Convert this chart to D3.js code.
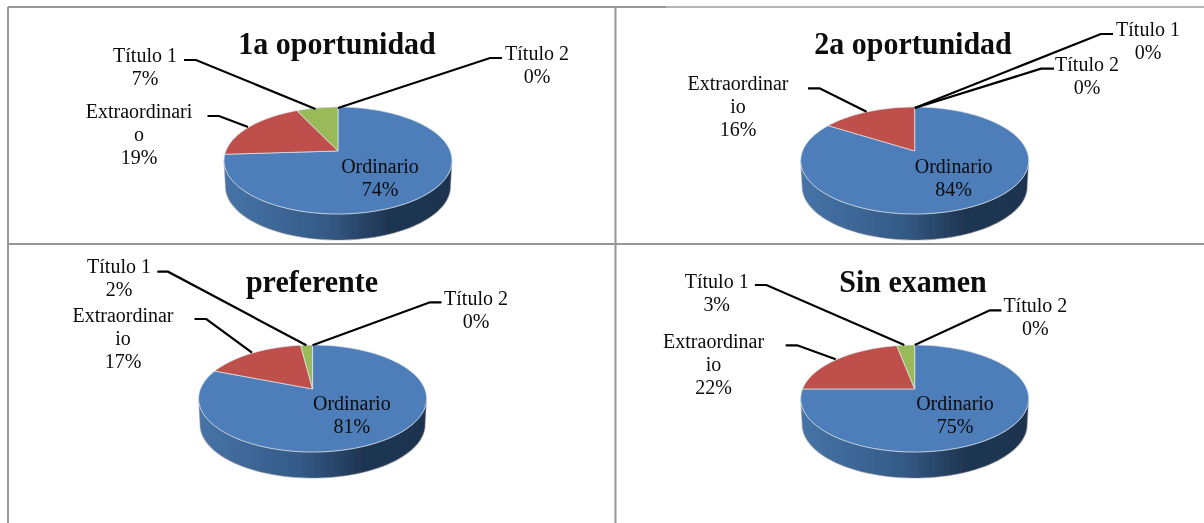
<!DOCTYPE html>
<html>
<head>
<meta charset="utf-8">
<script src="https://cdn.jsdelivr.net/npm/d3@7"></script>
<style>
  html, body { margin: 0; padding: 0; background: #fff; overflow: hidden; }
  svg { display: block; }
  text { font-family: "Liberation Serif", serif; fill: #0a0a0a; }
</style>
</head>
<body>
<div id="chart"></div>
<script>
// Chart values
const categories = ['Ordinario', 'Extraordinario', 'Título 1', 'Título 2'];
const titles = ['1a oportunidad', '2a oportunidad', 'preferente', 'Sin examen'];
const shares1 = [74, 19, 7, 0];
const shares2 = [84, 16, 0, 0];
const shares3 = [81, 17, 2, 0];
const shares4 = [75, 22, 3, 0];
const allShares = [shares1, shares2, shares3, shares4];

// Excel wrapped the long label differently in each panel
const extraLines = [['Extraordinari', 'o'], ['Extraordinar', 'io'], ['Extraordinar', 'io'], ['Extraordinar', 'io']];

const colors = ['#4d7eb9', '#be4f4c', '#9aba5a', '#8064a2'];

// Layout: one entry per panel
const layout = [
    {
        cx: 338, top: 107,
        title: [337, 54],
        inside: [380, 173],
        labels: { 1: [139, 118], 2: [145, 61.5], 3: [537, 60] },
        leaders: {
            1: [[207.5, 116], [219, 116], [248, 127]],
            2: [[184, 60], [196, 60], [315.5, 109]],
            3: [[338, 108], [490, 58], [502, 58]]
        }
    },
    {
        cx: 914.7, top: 107,
        title: [913, 54],
        inside: [953.6, 173],
        labels: { 1: [738, 90], 2: [1148, 35.7], 3: [1087, 71] },
        leaders: {
            1: [[808, 88.3], [819.6, 88.3], [866.6, 111.7]],
            2: [[914.7, 108], [1100.8, 34], [1113, 34]],
            3: [[914.7, 108], [1041, 68.7], [1054, 68.7]]
        }
    },
    {
        cx: 312.6, top: 345,
        title: [312, 291.7],
        inside: [351.8, 410],
        labels: { 1: [123, 322], 2: [119, 272.7], 3: [476, 304.7] },
        leaders: {
            1: [[194.5, 319], [206.3, 319], [252, 352.7]],
            2: [[157.3, 271.7], [168, 271.7], [306.3, 345.3]],
            3: [[312.5, 345.3], [430, 302.3], [441.5, 302.3]]
        }
    },
    {
        cx: 914.7, top: 345,
        title: [913, 291.7],
        inside: [955, 410],
        labels: { 1: [713.6, 348.3], 2: [716.7, 288.3], 3: [1035.3, 312] },
        leaders: {
            1: [[785.7, 345.3], [797.2, 345.3], [835.7, 359.3]],
            2: [[754.9, 285], [766.4, 285], [904.3, 345]],
            3: [[914.7, 345], [989.8, 310.3], [1001.4, 310.3]]
        }
    }
];

const width = 1204, height = 523;
const rx = 114, ry = 53.5, depth = 26;
const tilt = 0.178;   // how far the apex sits behind the centre of the ellipse
const titleStretch = 1.08, labelStretch = 1.04;   // the scan is a little taller than it is wide

const svg = d3.select('#chart').append('svg')
    .attr('width', width)
    .attr('height', height)
    .attr('viewBox', [0, 0, width, height]);

const defs = svg.append('defs');

// Side wall gradient
const grad = defs.append('linearGradient').attr('id', 'side');
grad.append('stop').attr('offset', '0%').attr('stop-color', '#4674a8');
grad.append('stop').attr('offset', '45%').attr('stop-color', '#345a86');
grad.append('stop').attr('offset', '72%').attr('stop-color', '#1f3552');
grad.append('stop').attr('offset', '100%').attr('stop-color', '#1e3350');

// The reference is a soft raster, so everything gets a very slight blur
defs.append('filter').attr('id', 'soft')
    .attr('x', 0).attr('y', 0).attr('width', 1).attr('height', 1)
    .append('feGaussianBlur').attr('stdDeviation', 0.35);

const root = svg.append('g').attr('filter', 'url(#soft)');
root.append('rect').attr('width', width).attr('height', height).attr('fill', '#fff');

// Table borders
const borders = root.append('g').attr('stroke', '#969696').attr('stroke-width', 2);
borders.append('line').attr('x1', 8).attr('x2', 8).attr('y1', 7).attr('y2', height);
borders.append('line').attr('x1', 615.5).attr('x2', 615.5).attr('y1', 7).attr('y2', height);
borders.append('line').attr('x1', 666).attr('x2', width).attr('y1', 7).attr('y2', 7).attr('stroke', '#b4b4b4');
borders.append('line').attr('x1', 8).attr('x2', 666).attr('y1', 7).attr('y2', 7);
borders.append('line').attr('x1', 8).attr('x2', width).attr('y1', 244).attr('y2', 244);

const pie = d3.pie().sort(null).value(d => d).startAngle(0).endAngle(2 * Math.PI);

// Perspective view of a point on the pie's rim: the circle still lands on the ellipse
// but the centre of the disc moves up towards the back edge
function rimPoint(angle, cx, cy) {
    const u = Math.sin(angle), v = Math.cos(angle);
    const q = 1 + tilt * v;
    return [
        cx + rx * u * Math.sqrt(1 - tilt * tilt) / q,
        cy - ry * (v + tilt) / q
    ];
}

layout.forEach((p, i) => {
    const g = root.append('g');
    const cy = p.top + ry;
    const apex = [p.cx, cy - ry * tilt];
    const line = d3.line();

    // Side wall: front half of the top ellipse closed by a slightly narrower lower one
    const upper = d3.range(0, Math.PI + 0.01, 0.05).map(t => [p.cx + rx * Math.cos(t), cy + ry * Math.sin(t)]);
    const lower = d3.range(Math.PI, -0.01, -0.05).map(t => [p.cx + (rx - 1.5) * Math.cos(t), cy + depth + ry * Math.sin(t)]);
    g.append('path')
        .attr('d', line(upper.concat(lower)) + 'Z')
        .attr('fill', 'url(#side)')
        .attr('stroke', '#8c8c8c')
        .attr('stroke-opacity', 0.45)
        .attr('stroke-width', 1.2);

    // Slices on the top face
    pie(allShares[i]).forEach((s, k) => {
        if (s.value === 0) return;
        const steps = Math.max(2, Math.ceil((s.endAngle - s.startAngle) / 0.03));
        const rim = d3.range(steps + 1).map(j =>
            rimPoint(s.startAngle + (s.endAngle - s.startAngle) * j / steps, p.cx, cy));
        g.append('path')
            .attr('d', line([apex].concat(rim)) + 'Z')
            .attr('fill', colors[k])
            .attr('stroke', '#dfe6ef')
            .attr('stroke-width', 0.7);
    });

    // Leader lines
    [1, 2, 3].forEach(k => {
        g.append('path')
            .attr('d', line(p.leaders[k]))
            .attr('fill', 'none')
            .attr('stroke', '#000')
            .attr('stroke-width', 2.2);
    });

    // Text is stretched upwards from its baseline
    const addText = (x, y, t, size, weight, stretch) => {
        g.append('text')
            .attr('transform', `translate(${x},${y}) scale(1,${stretch})`)
            .attr('text-anchor', 'middle')
            .attr('font-size', size)
            .attr('font-weight', weight)
            .text(t);
    };

    // Chart title
    addText(p.title[0], p.title[1], titles[i], 30, 'bold', titleStretch);

    // Data labels
    const addLabel = (pos, lines) => {
        lines.forEach((t, n) => addText(pos[0], pos[1] + n * 23, t, 20, 'normal', labelStretch));
    };
    addLabel(p.inside, [categories[0], allShares[i][0] + '%']);
    addLabel(p.labels[1], extraLines[i].concat(allShares[i][1] + '%'));
    addLabel(p.labels[2], [categories[2], allShares[i][2] + '%']);
    addLabel(p.labels[3], [categories[3], allShares[i][3] + '%']);
});
</script>
</body>
</html>
